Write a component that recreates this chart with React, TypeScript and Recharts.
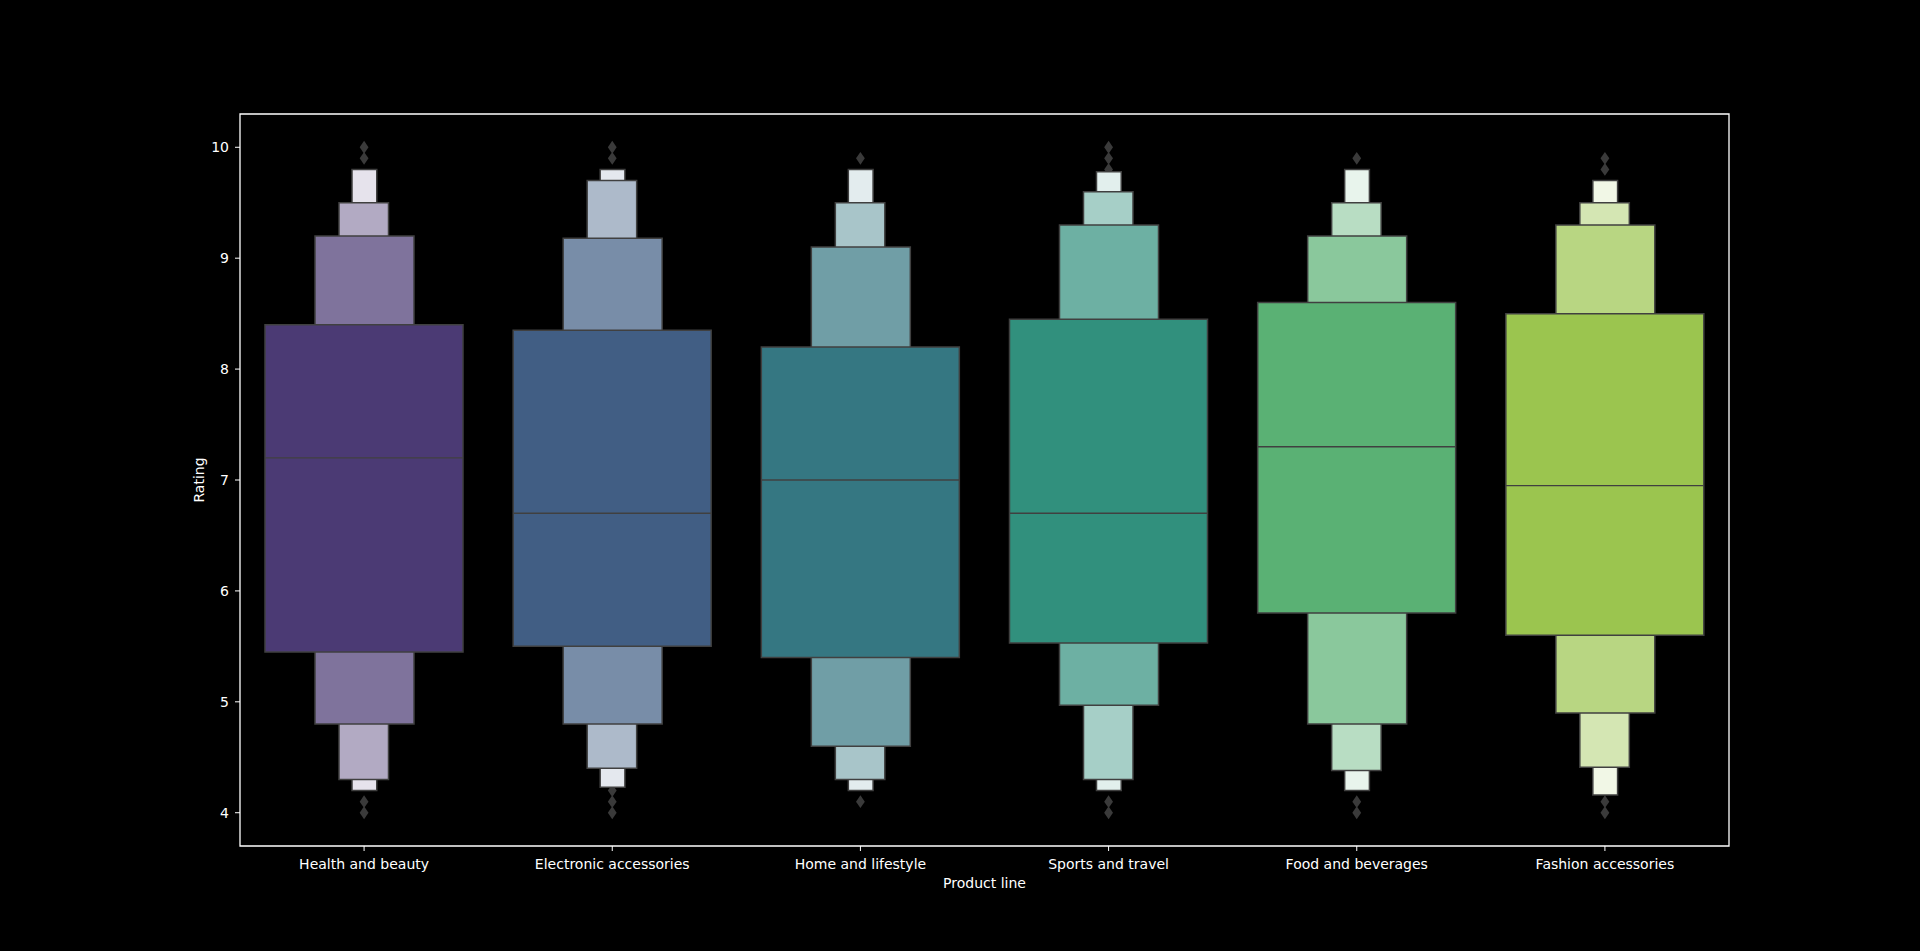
import React from "react";
import {
  ComposedChart,
  Bar,
  Cell,
  Scatter,
  XAxis,
  YAxis,
  ReferenceArea,
} from "recharts";

const categories = [
  "Health and beauty",
  "Electronic accessories",
  "Home and lifestyle",
  "Sports and travel",
  "Food and beverages",
  "Fashion accessories",
];

// letter-value boxes, widest (level 1) to narrowest (level 4): [low, high]
const level1 = [[5.45, 8.4], [5.5, 8.35], [5.4, 8.2], [5.53, 8.45], [5.8, 8.6], [5.6, 8.5]];
const level2 = [[4.8, 9.2], [4.8, 9.18], [4.6, 9.1], [4.97, 9.3], [4.8, 9.2], [4.9, 9.3]];
const level3 = [[4.3, 9.5], [4.4, 9.7], [4.3, 9.5], [4.3, 9.6], [4.38, 9.5], [4.41, 9.5]];
const level4 = [[4.2, 9.8], [4.23, 9.8], [4.2, 9.8], [4.2, 9.78], [4.2, 9.8], [4.16, 9.7]];

const medians = [7.2, 6.7, 7.0, 6.7, 7.3, 6.95];

const outliers = [
  [10.0, 9.9, 4.1, 4.0],
  [10.0, 9.9, 4.2, 4.1, 4.0],
  [9.9, 4.1],
  [10.0, 9.9, 9.8, 4.1, 4.0],
  [9.9, 4.1, 4.0],
  [9.9, 9.8, 4.1, 4.0],
];

const yTicks = [4, 5, 6, 7, 8, 9, 10];

const baseColors = ["#4b3a74", "#415e84", "#357782", "#31907d", "#5ab174", "#9bc54f"];
const EDGE = "#404040";
const BOX_W = 198;
const FONT = "DejaVu Sans";

// blend a colour toward white
const tint = (hex: string, t: number) => {
  const n = parseInt(hex.slice(1), 16);
  const c = [(n >> 16) & 255, (n >> 8) & 255, n & 255].map((v) =>
    Math.round(v + (255 - v) * t)
  );
  return `rgb(${c[0]},${c[1]},${c[2]})`;
};

const rows = categories.map((name, i) => ({
  name,
  l1: level1[i],
  l2: level2[i],
  l3: level3[i],
  l4: level4[i],
}));

const medianPts = medians.map((m, i) => ({ pos: i, value: m }));
const outlierPts = outliers.flatMap((vals, i) => vals.map((v) => ({ pos: i, value: v })));

const Diamond = (props: any) => {
  const { cx, cy } = props;
  const w = 4.4;
  const h = 6.4;
  return (
    <polygon
      points={`${cx},${cy - h} ${cx + w},${cy} ${cx},${cy + h} ${cx - w},${cy}`}
      fill="#3a3a3a"
    />
  );
};

const MedianLine = (props: any) => {
  const { cx, cy } = props;
  return (
    <line x1={cx - BOX_W / 2} x2={cx + BOX_W / 2} y1={cy} y2={cy} stroke={EDGE} strokeWidth={1.3} />
  );
};

const levels = [
  { key: "l4", size: BOX_W / 8, t: 0.86 },
  { key: "l3", size: BOX_W / 4, t: 0.57 },
  { key: "l2", size: BOX_W / 2, t: 0.29 },
  { key: "l1", size: BOX_W, t: 0 },
];

const tickStyle = { fill: "#ffffff", fontSize: 14, fontFamily: FONT };

export default function App() {
  return (
    <div style={{ position: "absolute", left: 0, top: 0, width: 1920, height: 951, background: "#000" }}>
      <ComposedChart
        width={1920}
        height={951}
        data={rows}
        margin={{ top: 114, right: 191, left: 158, bottom: 60 }}
      >
        <XAxis
          xAxisId="l1"
          dataKey="name"
          type="category"
          axisLine={false}
          tickSize={5}
          tickMargin={8}
          tickLine={{ stroke: "#fff" }}
          tick={tickStyle}
          height={45}
          interval={0}
          label={{ value: "Product line", position: "insideBottom", offset: 3, fill: "#fff", fontSize: 14, fontFamily: FONT }}
        />
        <XAxis xAxisId="l2" dataKey="name" type="category" hide />
        <XAxis xAxisId="l3" dataKey="name" type="category" hide />
        <XAxis xAxisId="l4" dataKey="name" type="category" hide />
        <XAxis xAxisId="pos" dataKey="pos" type="number" domain={[-0.5, 5.5]} allowDataOverflow hide />
        <YAxis
          type="number"
          domain={[3.7, 10.3]}
          allowDataOverflow
          ticks={yTicks}
          width={82}
          axisLine={false}
          tickSize={5}
          tickMargin={6}
          tickLine={{ stroke: "#fff" }}
          tick={tickStyle}
          label={{ value: "Rating", angle: -90, position: "center", fill: "#fff", fontSize: 14, fontFamily: FONT }}
        />
        <Scatter
          xAxisId="pos"
          data={outlierPts}
          dataKey="value"
          shape={Diamond}
          isAnimationActive={false}
          zIndex={100}
        />
        {levels.map((lv) => (
          <Bar
            key={lv.key}
            xAxisId={lv.key}
            dataKey={lv.key}
            barSize={lv.size}
            stroke={EDGE}
            strokeWidth={1.5}
            isAnimationActive={false}
          >
            {rows.map((r, i) => (
              <Cell key={`${lv.key}-${i}`} fill={tint(baseColors[i], lv.t)} />
            ))}
          </Bar>
        ))}
        <Scatter
          xAxisId="pos"
          data={medianPts}
          dataKey="value"
          shape={MedianLine}
          isAnimationActive={false}
        />
        <ReferenceArea
          xAxisId="l1"
          y1={3.7}
          y2={10.3}
          fill="none"
          stroke="#ffffff"
          strokeOpacity={1}
          strokeWidth={1.3}
          ifOverflow="visible"
        />
      </ComposedChart>
    </div>
  );
}
